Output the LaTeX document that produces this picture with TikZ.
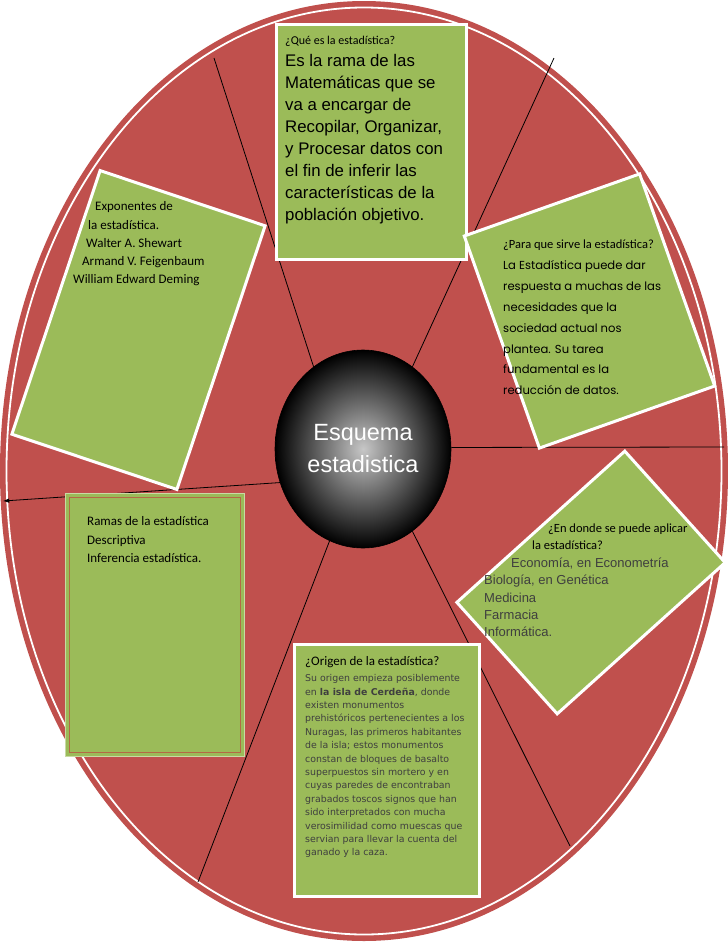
\documentclass[tikz,border=0pt]{standalone}
\usepackage{fontspec}
\setmainfont{Liberation Sans}
\newfontfamily\esqCalibri{Carlito}
\newfontfamily\esqVerdana{DejaVu Sans}
\newfontfamily\esqComic{Poppins}
\usetikzlibrary{arrows.meta,calc,shapes.geometric}
\definecolor{PieRed}{HTML}{C0504D}
\definecolor{CardGreen}{HTML}{9BBB59}
\definecolor{RuleBrown}{HTML}{B36A45}
\definecolor{SoftInk}{HTML}{3F3F3F}

\begin{document}
\begin{tikzpicture}[x=1pt,y=-1pt]
  \path[use as bounding box] (0,0) rectangle (728,943);
  \tikzset{
    esqCard/.style={
      draw=white, fill=CardGreen, line width=3pt, inner sep=0pt
    },
    esqRay/.style={draw=black, line width=.8pt},
    esqArrow/.style={esqRay, {Latex[length=2.2mm,width=1.6mm]}-},
    esqText/.style={anchor=north west, inner sep=0pt, align=left, text=black}
  }

  \fill[PieRed] (364,471) ellipse [x radius=364, y radius=470];
  \draw[white, line width=1.8pt] (364,471) ellipse [x radius=357.5, y radius=463.5];

  \node[ellipse, draw=black, line width=.6pt, minimum width=176pt,
    minimum height=198pt, inner sep=0pt, inner color=black!22,
    outer color=black, text=white, align=center,
    font=\fontsize{23.5}{32}\selectfont] (esquema) at (363,449)
    {Esquema\\estadistica};

  \coordinate (rayNW) at (214,58);
  \coordinate (rayNE) at (554,58);
  \coordinate (rayE) at (724,447);
  \coordinate (rayW) at (3,501);
  \coordinate (raySW) at (198,882);
  \coordinate (raySE) at (570,846);

  \draw[esqRay] (esquema.121) -- (rayNW);
  \draw[esqRay] (esquema.59) -- (rayNE);
  \draw[esqRay] (esquema.1) -- (rayE);
  \draw[esqArrow] (rayW) -- (esquema.202);
  \draw[esqRay] (esquema.250) -- (raySW);
  \draw[esqRay] (esquema.301) -- (raySE);

  \node[esqCard, minimum width=190pt, minimum height=235pt] (quees) at (371,141.5) {};
  \node[esqCard, minimum width=174pt, minimum height=278pt, rotate=-18.5] (exponentes) at (138.5,330) {};
  \node[esqCard, minimum width=186pt, minimum height=225pt, rotate=19.5] (sirve) at (589.5,311) {};
  \node[esqCard, minimum width=226pt, minimum height=150pt, rotate=42] (aplicar) at (591,582.5) {};
  \node[esqCard, draw=CardGreen!55!white, line width=1.5pt, minimum width=179pt,
    minimum height=263pt] (ramas) at (155,625) {};
  \draw[RuleBrown, line width=1.4pt]
    ($(ramas.north west)+(5,5)$) rectangle ($(ramas.south east)+(-5,-5)$);
  \node[esqCard, minimum width=185pt, minimum height=252pt] (origen) at (386.5,770) {};

  \node[esqText, font=\fontsize{16.8}{22}\selectfont] (queesText) at (285,36)
    {{\esqCalibri\fontsize{12}{22}\selectfont ¿Qué es la estadística?}\\
     Es la rama de las\\Matemáticas que se\\va a encargar de\\
     Recopilar, Organizar,\\y Procesar datos con\\el fin de inferir las\\
     características de la\\población objetivo.};

  \node[esqText, font=\esqCalibri\fontsize{13}{18.3}\selectfont] (exponentesText) at (73,201.5)
    {\hspace*{22pt}Exponentes de\\\hspace*{15pt}la estadística.\\
     \hspace*{13pt}Walter A. Shewart\\\hspace*{9pt}Armand V. Feigenbaum\\
     William Edward Deming};

  \node[esqText, font=\esqComic\fontsize{11.6}{20.9}\selectfont] (sirveText) at (503,239.7)
    {{\esqCalibri\fontsize{12.5}{20.9}\selectfont ¿Para que sirve la estadística?}\\
     La Estadística puede dar\\respuesta a muchas de las\\necesidades que la\\
     sociedad actual nos\\plantea. Su tarea\\fundamental es la\\
     reducción de datos.};

  \node[esqText, text=SoftInk, font=\fontsize{13}{17.4}\selectfont] (aplicarText) at (484,523.7)
    {{\esqCalibri\fontsize{12.5}{17.4}\selectfont\color{black}\hspace*{64pt}¿En donde se puede aplicar}\\
     {\esqCalibri\fontsize{12.5}{17.4}\selectfont\color{black}\hspace*{48pt}la estadística?}\\
     \hspace*{27pt}Economía, en Econometría\\Biología, en Genética\\
     Medicina\\Farmacia\\Informática.};

  \node[esqText, font=\esqCalibri\fontsize{13}{18.4}\selectfont] (ramasText) at (87,516.5)
    {Ramas de la estadística\\Descriptiva\\Inferencia estadística.};

  \node[esqText, text=SoftInk, font=\esqVerdana\fontsize{9.4}{13.4}\selectfont] (origenText) at (305,656.5)
    {{\esqCalibri\fontsize{13}{13.4}\selectfont\color{black}¿Origen de la estadística?}\\[2.6pt]
     Su origen empieza posiblemente\\en \textbf{la isla de Cerdeña}, donde\\
     existen monumentos\\prehistóricos pertenecientes a los\\
     Nuragas, las primeros habitantes\\de la isla; estos monumentos\\
     constan de bloques de basalto\\superpuestos sin mortero y en\\
     cuyas paredes de encontraban\\grabados toscos signos que han\\
     sido interpretados con mucha\\verosimilidad como muescas que\\
     servian para llevar la cuenta del\\ganado y la caza.};
\end{tikzpicture}
\end{document}
